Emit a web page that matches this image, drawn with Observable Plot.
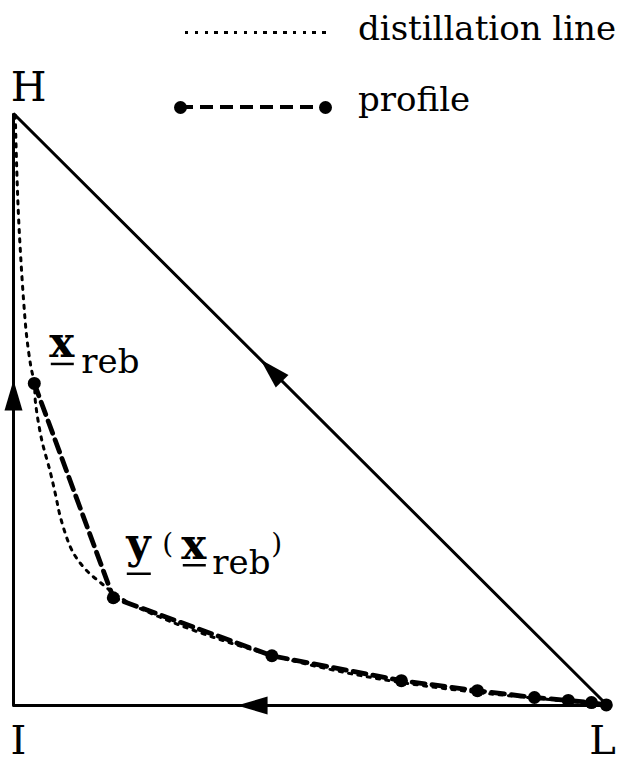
<!DOCTYPE html>
<html>
<head>
<meta charset="utf-8">
<script src="https://cdn.jsdelivr.net/npm/d3@7"></script>
<script src="https://cdn.jsdelivr.net/npm/@observablehq/plot@0.6"></script>
<style>
  html, body { margin: 0; padding: 0; background: #fff; }
  #wrap { position: relative; width: 624px; height: 762px; }
  .legend { position: absolute; left: 0; top: 0; width: 624px; height: 130px; font-family: "DejaVu Serif", serif; color: #000; }
  .legend .label { position: absolute; left: 358px; font-size: 34px; line-height: 34px; white-space: nowrap; }
  .legend .dotted { position: absolute; left: 185px; width: 147px; top: 30.5px; height: 3px;
    background: repeating-linear-gradient(to right, #000 0 3.5px, transparent 3.5px 9.8px); }
  .legend .dashed { position: absolute; left: 180px; width: 145px; top: 104.75px; height: 4.5px;
    background: repeating-linear-gradient(to right, #000 0 13px, transparent 13px 20px); }
  .legend .dot { position: absolute; width: 13px; height: 13px; border-radius: 50%; background: #000; top: 100.5px; }
</style>
</head>
<body>
<div id="wrap">
  <div id="chart"></div>
  <div class="legend">
    <div class="dotted"></div>
    <div class="label" style="top: 11px">distillation line</div>
    <div class="dashed"></div>
    <div class="dot" style="left: 173.5px"></div>
    <div class="dot" style="left: 318.5px"></div>
    <div class="label" style="top: 82px">profile</div>
  </div>
</div>
<script>
// Ternary composition space drawn as a right triangle:
// xL = mole fraction of the light component L, xH = mole fraction of the heavy component H,
// the intermediate I is the remainder.
const vertexNames = ["I", "H", "L"];
const vertexL = [0, 0, 1];
const vertexH = [0, 1, 0];

// Column profile, starting at the reboiler composition x_reb and running up to pure L
const profileL = [0.035, 0.168, 0.435, 0.653, 0.781, 0.877, 0.934, 0.973, 0.998];
const profileH = [0.544, 0.182, 0.084, 0.042, 0.025, 0.0135, 0.0085, 0.005, 0.001];

// Distillation line through x_reb, from H down to L
const distL = [0.003, 0.005, 0.008, 0.012, 0.017, 0.022, 0.029, 0.035, 0.037, 0.047, 0.062, 0.071,
               0.079, 0.096, 0.109, 0.126, 0.146, 0.167, 0.197, 0.264, 0.349, 0.436, 0.542, 0.652,
               0.781, 0.877, 0.938, 0.997];
const distH = [0.997, 0.921, 0.836, 0.760, 0.684, 0.625, 0.574, 0.544, 0.512, 0.451, 0.394, 0.355,
               0.318, 0.267, 0.245, 0.225, 0.208, 0.191, 0.172, 0.142, 0.111, 0.0845, 0.059, 0.039,
               0.022, 0.0125, 0.0065, 0.0015];

// Direction of the residue curves along the triangle edges (from -> to, fraction along the edge)
const edgeFrom = ["I", "L", "L"];
const edgeTo = ["H", "I", "H"];
const edgeAt = [0.524, 0.598, 0.566];

const vertices = vertexNames.map((name, i) => ({name, xL: vertexL[i], xH: vertexH[i]}));
const byName = Object.fromEntries(vertices.map((v) => [v.name, v]));
const triangle = ["I", "H", "L", "I"].map((n) => byName[n]);
const profile = profileL.map((xL, i) => ({xL, xH: profileH[i]}));
const distillation = distL.map((xL, i) => ({xL, xH: distH[i]}));
const arrows = edgeFrom.map((f, i) => {
  const a = byName[f], b = byName[edgeTo[i]], t = edgeAt[i];
  return {
    xL: a.xL + t * (b.xL - a.xL),
    xH: a.xH + t * (b.xH - a.xH),
    angle: Math.atan2(b.xL - a.xL, b.xH - a.xH) * 180 / Math.PI
  };
});

// Filled, elongated arrowhead pointing up; Plot rotates it along each edge
const arrowHead = {
  draw(context, size) {
    const r = Math.sqrt(size / Math.PI);
    context.moveTo(0, -1.7 * r);
    context.lineTo(r, 1.7 * r);
    context.lineTo(-r, 1.7 * r);
    context.closePath();
  }
};

const at = (p, text) => [{...p, text}];
const serif = "'DejaVu Serif', serif";
const xy = {x: "xL", y: "xH"};

const chart = Plot.plot({
  width: 624,
  height: 762,
  marginLeft: 13,
  marginRight: 17,
  marginTop: 113,
  marginBottom: 57,
  x: {domain: [0, 1], axis: null},
  y: {domain: [0, 1], axis: null},
  style: {background: "white", color: "black", fontFamily: serif, overflow: "visible"},
  marks: [
    Plot.line(triangle, {...xy, stroke: "black", strokeWidth: 3, strokeLinejoin: "miter"}),
    Plot.dot(arrows, {...xy, r: 9, symbol: arrowHead, rotate: "angle", fill: "black", stroke: "none"}),
    Plot.line(distillation, {...xy, curve: "catmull-rom", stroke: "black", strokeWidth: 3,
      strokeDasharray: "3.2,6.3"}),
    Plot.line(profile, {...xy, stroke: "black", strokeWidth: 4.8, strokeDasharray: "13,7"}),
    Plot.dot(profile, {...xy, r: 6.5, fill: "black", stroke: "none"}),

    // vertex labels
    Plot.text([byName.H], {...xy, text: "name", dx: 15, dy: -13, lineAnchor: "bottom", fontSize: 41}),
    Plot.text([byName.I], {...xy, text: "name", dx: 5, dy: 48, lineAnchor: "bottom", fontSize: 40}),
    Plot.text([byName.L], {...xy, text: "name", dx: -5, dy: 48, lineAnchor: "bottom", fontSize: 40}),

    // x_reb
    Plot.text(at(profile[0], "x"), {...xy, text: "text", dx: 15, dy: -26, textAnchor: "start",
      lineAnchor: "bottom", fontSize: 42, fontWeight: "bold"}),
    Plot.text(at(profile[0], "reb"), {...xy, text: "text", dx: 47, dy: -10, textAnchor: "start",
      lineAnchor: "bottom", fontSize: 34}),

    // y(x_reb)
    Plot.text(at(profile[1], "y"), {...xy, text: "text", dx: 13, dy: -40, textAnchor: "start",
      lineAnchor: "bottom", fontSize: 42, fontWeight: "bold"}),
    Plot.text(at(profile[1], "("), {...xy, text: "text", dx: 49, dy: -45, textAnchor: "start",
      lineAnchor: "bottom", fontSize: 28}),
    Plot.text(at(profile[1], "x"), {...xy, text: "text", dx: 68, dy: -39, textAnchor: "start",
      lineAnchor: "bottom", fontSize: 42, fontWeight: "bold"}),
    Plot.text(at(profile[1], "reb"), {...xy, text: "text", dx: 99, dy: -24, textAnchor: "start",
      lineAnchor: "bottom", fontSize: 34}),
    Plot.text(at(profile[1], ")"), {...xy, text: "text", dx: 158, dy: -45, textAnchor: "start",
      lineAnchor: "bottom", fontSize: 28})
  ]
});

document.getElementById("chart").append(chart);

// vectors are written bold and underlined: a bar under each bold glyph
chart.querySelectorAll('g[font-weight="bold"] text').forEach((t) => {
  const b = t.getBBox();
  const below = t.textContent === "y" ? 16 : 6.5;
  const bar = document.createElementNS("http://www.w3.org/2000/svg", "line");
  bar.setAttribute("x1", b.x + 1.5);
  bar.setAttribute("x2", b.x + b.width - 1.5);
  bar.setAttribute("y1", below);
  bar.setAttribute("y2", below);
  bar.setAttribute("stroke", "black");
  bar.setAttribute("stroke-width", 2.5);
  const tr = t.getAttribute("transform");
  if (tr) bar.setAttribute("transform", tr);
  t.parentNode.append(bar);
});
</script>
</body>
</html>
